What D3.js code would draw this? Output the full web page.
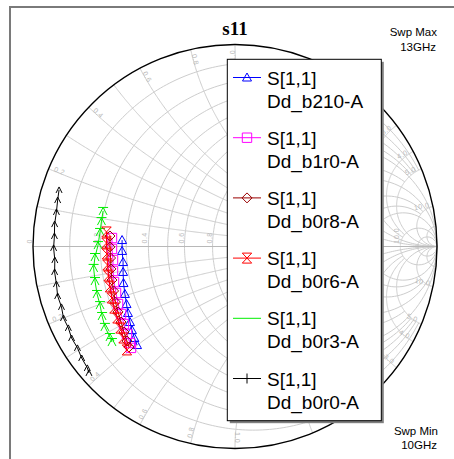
<!DOCTYPE html>
<html><head><meta charset="utf-8">
<script src="https://cdn.jsdelivr.net/npm/d3@7"></script>
<style>body{margin:0;background:#fff}svg{display:block}</style>
</head><body>
<svg id="c" width="454" height="459"></svg>
<script>
// ---- data: S11 (real, imag) from 10 GHz to 13 GHz ----
const seriesNames = ["Dd_b210-A","Dd_b1r0-A","Dd_b0r8-A","Dd_b0r6-A","Dd_b0r3-A","Dd_b0r0-A"];
const legendPrefix = "S[1,1]";
const s_b210 = [[-0.559,0.032],[-0.559,-0.022],[-0.554,-0.077],[-0.554,-0.126],[-0.552,-0.181],[-0.545,-0.235],[-0.537,-0.285],[-0.530,-0.329],[-0.520,-0.374],[-0.510,-0.414],[-0.498,-0.453],[-0.485,-0.488]];
const s_b1r0 = [[-0.609,0.042],[-0.609,-0.012],[-0.604,-0.067],[-0.604,-0.121],[-0.599,-0.176],[-0.589,-0.230],[-0.579,-0.285],[-0.564,-0.334],[-0.550,-0.384],[-0.535,-0.433],[-0.520,-0.478],[-0.515,-0.502]];
const s_b0r8 = [[-0.619,0.052],[-0.619,-0.002],[-0.616,-0.057],[-0.614,-0.111],[-0.609,-0.166],[-0.601,-0.220],[-0.592,-0.275],[-0.579,-0.324],[-0.564,-0.374],[-0.550,-0.423],[-0.535,-0.468],[-0.525,-0.498]];
const s_b0r6 = [[-0.636,0.072],[-0.636,0.017],[-0.634,-0.037],[-0.631,-0.092],[-0.626,-0.146],[-0.619,-0.200],[-0.609,-0.255],[-0.597,-0.305],[-0.582,-0.354],[-0.567,-0.404],[-0.552,-0.453],[-0.535,-0.512]];
const s_b0r3 = [[-0.653,0.176],[-0.661,0.126],[-0.668,0.072],[-0.678,0.007],[-0.693,-0.052],[-0.700,-0.106],[-0.693,-0.171],[-0.683,-0.235],[-0.668,-0.290],[-0.658,-0.344],[-0.644,-0.398],[-0.619,-0.448],[-0.609,-0.473]];
const s_b0r0 = [[-0.871,0.280],[-0.878,0.230],[-0.884,0.171],[-0.893,0.111],[-0.894,0.052],[-0.898,-0.007],[-0.892,-0.067],[-0.893,-0.126],[-0.884,-0.186],[-0.878,-0.245],[-0.859,-0.299],[-0.849,-0.354],[-0.825,-0.403],[-0.809,-0.453],[-0.780,-0.502],[-0.759,-0.552],[-0.731,-0.601],[-0.723,-0.626]];
// Smith grid values and segment limits
const gridValues = [0.1,0.2,0.3,0.4,0.5,0.6,0.8,1,1.5,2,3,4,5,10,20];
const gridLimits = [2,5,2,5,2,5,5,Infinity,5,Infinity,10,10,Infinity,Infinity,Infinity];
const rLabels = ["0","0.2","0.4","0.6","0.8","1.0","2.0","3.0","4.0","5.0","10.0"];
const xLabels = ["0.2","0.4","0.6","0.8","1.0","2.0","3.0","4.0","5.0","10.0"];
const sweep = {max:["Swp Max","13GHz"], min:["Swp Min","10GHz"]};
const title = "s11";

const svg = d3.select("#c");
const cx = 235, cy = 246.5, R = 202;
const xs = d3.scaleLinear().domain([-1,1]).range([cx-R, cx+R]);
const ys = d3.scaleLinear().domain([-1,1]).range([cy+R, cy-R]);
const gam = (r,x) => { const d=(r+1)*(r+1)+x*x; return [(r*r-1+x*x)/d, 2*x/d]; };
const line = d3.line().x(d=>xs(d[0])).y(d=>ys(d[1]));

// frame
svg.append("rect").attr("x",10).attr("y",7).attr("width",470).attr("height",480)
  .attr("fill","none").attr("stroke","#7a7a7a").attr("stroke-width",2);

const grid = svg.append("g").attr("fill","none").attr("stroke","#cdcdcd").attr("stroke-width",1);
const N = 240;
gridValues.forEach((v,i)=>{
  const L = gridLimits[i];
  const tmax = isFinite(L) ? Math.atan(L) : Math.PI/2 - 1e-5;
  // resistance circle
  const pr = d3.range(N+1).map(k => gam(v, Math.tan(-tmax + 2*tmax*k/N)));
  grid.append("path").attr("d", line(pr));
  // reactance arcs
  [1,-1].forEach(s=>{
    const px = d3.range(N+1).map(k => gam(Math.tan(tmax*k/N), s*v));
    grid.append("path").attr("d", line(px));
  });
});
// real axis
svg.append("line").attr("x1",xs(-1)).attr("x2",xs(1)).attr("y1",ys(0)).attr("y2",ys(0))
  .attr("stroke","#b8b8b8").attr("stroke-width",1);

// labels
const lab = svg.append("g").attr("fill","#b9b9b9").attr("font-family","Liberation Sans, Arial, sans-serif")
  .attr("font-size",7).attr("letter-spacing",0.5);
rLabels.forEach(t=>{
  const v = +t; const g0 = gam(v,0);
  lab.append("text").attr("text-anchor","start")
    .attr("transform",`translate(${xs(g0[0])-1},${cy-3}) rotate(-90)`).text(t);
});
xLabels.forEach(t=>{
  const v = +t;
  [1,-1].forEach(s=>{
    const g0 = gam(0, s*v);
    const phi = Math.atan2(g0[1], g0[0]);
    let rot = -phi*180/Math.PI;
    if (rot < -90) rot += 180; if (rot > 90) rot -= 180;
    const rr = R - 11;
    const px = cx + rr*Math.cos(phi), py = cy - rr*Math.sin(phi);
    lab.append("text").attr("text-anchor","middle")
      .attr("transform",`translate(${px},${py}) rotate(${rot})`).text(t);
  });
});

// outer circle
svg.append("circle").attr("cx",cx).attr("cy",cy).attr("r",R).attr("fill","none")
  .attr("stroke","#000").attr("stroke-width",1.4);

// markers
const M = {
  tri: "M0,-4.5L4.5,3.5L-4.5,3.5Z",
  sq: "M-4.7,-4.7H4.7V4.7H-4.7Z",
  dia: "M0,-5L5,0L0,5L-5,0Z",
  hour: "M-4.7,-5H4.7L-4.7,5H4.7Z",
  green: "M-5,-3.5H5M-4,4L0,-3.5L4,4",
  black: "M-3,3L0,-3L3,3",
  plus: "M0,-5V5",
  none: ""
};
const series = [
  {data:s_b210, color:"#0000ff", mark:M.tri, leg:M.tri},
  {data:s_b1r0, color:"#ff00ff", mark:M.sq, leg:M.sq},
  {data:s_b0r8, color:"#990000", mark:M.dia, leg:M.dia},
  {data:s_b0r6, color:"#ff0000", mark:M.hour, leg:M.hour},
  {data:s_b0r3, color:"#00ee00", mark:M.green, leg:M.none},
  {data:s_b0r0, color:"#000000", mark:M.black, leg:M.plus}
];
const draw = [4,5,0,1,2,3];
draw.forEach(i=>{
  const s = series[i];
  const g = svg.append("g");
  g.append("path").attr("d",line(s.data)).attr("fill","none").attr("stroke",s.color).attr("stroke-width",1);
  g.selectAll("path.m").data(s.data).join("path").attr("class","m")
    .attr("d",s.mark).attr("transform",d=>`translate(${xs(d[0])},${ys(d[1])})`)
    .attr("fill","none").attr("stroke",s.color).attr("stroke-width",1);
});

// title
svg.append("text").attr("x",235).attr("y",35).attr("text-anchor","middle")
  .attr("font-family","Liberation Serif, Times New Roman, serif").attr("font-weight","bold")
  .attr("font-size",19).text(title);

// sweep labels
const sw = svg.append("g").attr("font-family","Liberation Sans, Arial, sans-serif").attr("font-size",11.5).attr("text-anchor","end");
sw.append("text").attr("x",437).attr("y",36).text(sweep.max[0]);
sw.append("text").attr("x",436).attr("y",51).text(sweep.max[1]);
sw.append("text").attr("x",438).attr("y",435).text(sweep.min[0]);
sw.append("text").attr("x",437).attr("y",449).text(sweep.min[1]);

// legend
const lx=227.3, ly=59.3, lw=154, lh=361.4;
svg.append("rect").attr("x",lx+2.5).attr("y",ly+2.5).attr("width",lw).attr("height",lh).attr("fill","#808080");
svg.append("rect").attr("x",lx).attr("y",ly).attr("width",lw).attr("height",lh).attr("fill","#fff").attr("stroke","#000").attr("stroke-width",1);
const leg = svg.append("g").attr("font-family","Liberation Sans, Arial, sans-serif").attr("font-size",19);
series.forEach((s,i)=>{
  const by = 84.5 + i*60.2;
  const yl = by - 7;
  leg.append("line").attr("x1",233).attr("x2",261).attr("y1",yl).attr("y2",yl).attr("stroke",s.color).attr("stroke-width",1);
  if (s.leg) leg.append("path").attr("d",s.leg).attr("transform",`translate(247,${yl})`).attr("fill","none").attr("stroke",s.color).attr("stroke-width",1);
  leg.append("text").attr("x",267).attr("y",by).text(legendPrefix);
  leg.append("text").attr("x",267).attr("y",by+23).text(seriesNames[i]);
});
</script>
</body></html>
